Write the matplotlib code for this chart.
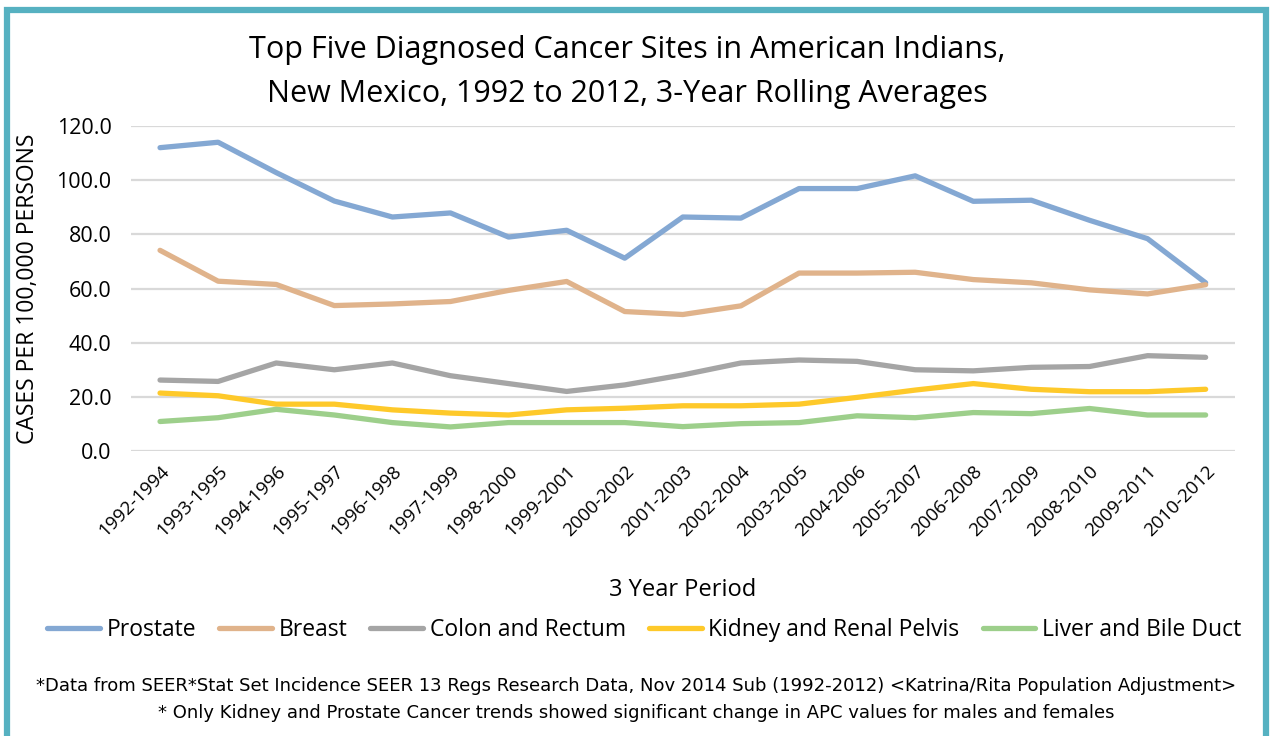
import matplotlib.pyplot as plt
from matplotlib.patches import Rectangle

periods = ['1992-1994', '1993-1995', '1994-1996', '1995-1997', '1996-1998',
           '1997-1999', '1998-2000', '1999-2001', '2000-2002', '2001-2003',
           '2002-2004', '2003-2005', '2004-2006', '2005-2007', '2006-2008',
           '2007-2009', '2008-2010', '2009-2011', '2010-2012']

prostate = [112.0, 114.0, 102.8, 92.3, 86.4, 87.9, 79.0, 81.5, 71.2, 86.4,
            86.0, 96.9, 96.9, 101.6, 92.2, 92.6, 85.2, 78.4, 62.1]
breast = [74.1, 62.7, 61.5, 53.7, 54.3, 55.2, 59.3, 62.6, 51.5, 50.4,
          53.6, 65.7, 65.7, 66.0, 63.3, 62.1, 59.5, 58.0, 61.4]
colon = [26.2, 25.7, 32.5, 30.0, 32.5, 27.8, 24.9, 22.0, 24.4, 28.1,
         32.5, 33.6, 33.1, 30.0, 29.6, 30.9, 31.2, 35.2, 34.6]
kidney = [21.4, 20.4, 17.3, 17.3, 15.2, 14.0, 13.3, 15.2, 15.8, 16.7,
          16.7, 17.3, 19.8, 22.5, 24.9, 22.8, 21.9, 21.9, 22.8]
liver = [10.9, 12.3, 15.4, 13.3, 10.5, 8.9, 10.5, 10.5, 10.5, 9.0,
         10.1, 10.5, 13.0, 12.3, 14.2, 13.8, 15.7, 13.3, 13.3]

series = [('Prostate', prostate, '#84a8d3'),
          ('Breast', breast, '#e0b38b'),
          ('Colon and Rectum', colon, '#a5a5a5'),
          ('Kidney and Renal Pelvis', kidney, '#fec92a'),
          ('Liver and Bile Duct', liver, '#9dcf8b')]

plt.rcParams['font.family'] = ['Open Sans', 'DejaVu Sans']

fig = plt.figure(figsize=(12.73, 7.36), dpi=100)
ax = fig.add_axes([0.1029, 0.3872, 0.867, 0.4416])

x = list(range(len(periods)))
for name, vals, col in series:
    ax.plot(x, vals, color=col, lw=3.8, label=name, solid_capstyle='round',
            solid_joinstyle='round')

ax.set_xlim(-0.5, len(periods) - 0.5)
ax.set_ylim(0, 120)
ax.set_yticks(range(0, 121, 20))
ax.set_yticklabels([f'{v:.1f}' for v in range(0, 121, 20)], fontsize=15.5)
ax.set_xticks(x)
ax.set_xticklabels(periods, rotation=45, ha='right', rotation_mode='anchor',
                   fontsize=13.5)
ax.tick_params(axis='y', length=0, pad=14)
ax.tick_params(axis='x', length=0, pad=8)
ax.grid(axis='y', color='#d9d9d9', lw=1.6)
ax.set_axisbelow(True)
for s in ax.spines.values():
    s.set_visible(False)

ax.set_ylabel('CASES PER 100,000 PERSONS', fontsize=16.5, labelpad=12)
fig.text(0.5366, 0.198, '3 Year Period', ha='center', va='center', fontsize=17)

fig.text(0.493, 0.932, 'Top Five Diagnosed Cancer Sites in American Indians,',
         ha='center', va='center', fontsize=22)
fig.text(0.493, 0.872, 'New Mexico, 1992 to 2012, 3-Year Rolling Averages',
         ha='center', va='center', fontsize=22)

fig.legend(loc='center', bbox_to_anchor=(0.506, 0.144), ncol=5, frameon=False,
           fontsize=16.5, handlelength=2.3, columnspacing=1.0, handletextpad=0.3)

foot = ['Liberation Sans Narrow', 'DejaVu Sans']
fig.text(0.5, 0.068, '*Data from SEER*Stat Set Incidence SEER 13 Regs Research Data, '
         'Nov 2014 Sub (1992-2012) <Katrina/Rita Population Adjustment>',
         ha='center', va='center', fontsize=13, family=foot)
fig.text(0.5, 0.031, '* Only Kidney and Prostate Cancer trends showed significant '
         'change in APC values for males and females',
         ha='center', va='center', fontsize=13, family=foot)

fig.patches.append(Rectangle((0.0055, -0.05), 0.989, 1.037, transform=fig.transFigure,
                             fill=False, edgecolor='#56b1c1', lw=4.5))

fig.savefig('out.png', dpi=100)
